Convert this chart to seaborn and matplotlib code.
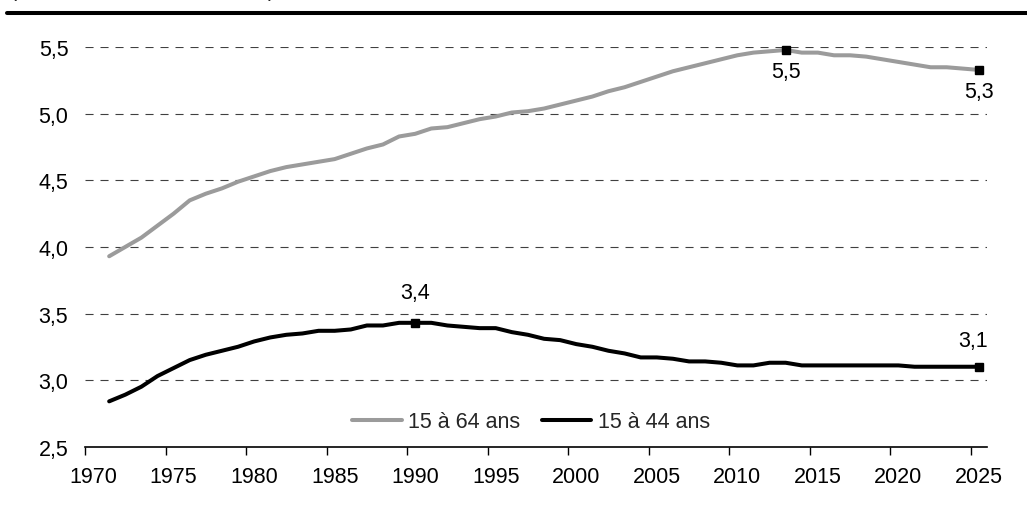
import numpy as np
import pandas as pd
import matplotlib
matplotlib.use("Agg")
import matplotlib.pyplot as plt
from matplotlib.lines import Line2D
import seaborn as sb

# data (annual values, 1971-2025)
years = list(range(1971, 2026))

pop_15_64 = [3.93, 4.00, 4.07, 4.16, 4.25, 4.35, 4.40, 4.44, 4.49, 4.53,
             4.57, 4.60, 4.62, 4.64, 4.66, 4.70, 4.74, 4.77, 4.83, 4.85,
             4.89, 4.90, 4.93, 4.96, 4.98, 5.01, 5.02, 5.04, 5.07, 5.10,
             5.13, 5.17, 5.20, 5.24, 5.28, 5.32, 5.35, 5.38, 5.41, 5.44,
             5.46, 5.47, 5.48, 5.46, 5.46, 5.44, 5.44, 5.43, 5.41, 5.39,
             5.37, 5.35, 5.35, 5.34, 5.33]

pop_15_44 = [2.84, 2.89, 2.95, 3.03, 3.09, 3.15, 3.19, 3.22, 3.25, 3.29,
             3.32, 3.34, 3.35, 3.37, 3.37, 3.38, 3.41, 3.41, 3.43, 3.43,
             3.43, 3.41, 3.40, 3.39, 3.39, 3.36, 3.34, 3.31, 3.30, 3.27,
             3.25, 3.22, 3.20, 3.17, 3.17, 3.16, 3.14, 3.14, 3.13, 3.11,
             3.11, 3.13, 3.13, 3.11, 3.11, 3.11, 3.11, 3.11, 3.11, 3.11,
             3.10, 3.10, 3.10, 3.10, 3.10]

series_names = ["15 à 64 ans", "15 à 44 ans"]
series_colors = ["#9b9b9b", "#000000"]

# labelled points (series, year)
marked = [("15 à 64 ans", 2013),
          ("15 à 64 ans", 2025),
          ("15 à 44 ans", 1990),
          ("15 à 44 ans", 2025)]
# label offsets from the marker, in pixels (dx, dy)
label_offsets = [(0, -22), (0, -22), (0, 30), (-6, 26)]

y_ticks = [2.5, 3.0, 3.5, 4.0, 4.5, 5.0, 5.5]
x_label_years = list(range(1970, 2026, 5))

df = pd.DataFrame({
    "annee": years * 2,
    "valeur": pop_15_64 + pop_15_44,
    "serie": [series_names[0]] * len(years) + [series_names[1]] * len(years),
})

FS = 15.5
px = 72 / 100  # points per pixel at dpi 100

sb.set_theme(style="white")
plt.rcParams["font.family"] = ["Liberation Sans", "DejaVu Sans"]
plt.rcParams["lines.scale_dashes"] = False

fig = plt.figure(figsize=(10.27, 5.06), dpi=100)
ax = fig.add_axes([85 / 1027, 1 - 447.6 / 506, 902 / 1027, 399.3 / 506])

# dashed horizontal gridlines
for yv in y_ticks[1:]:
    ax.axhline(yv, color="#404040", lw=0.8, ls=(0, (5.8, 5.0)), zorder=1)

sb.lineplot(data=df, x="annee", y="valeur", hue="serie", hue_order=series_names,
            palette=series_colors, linewidth=2.9, ax=ax, zorder=3)

lookup = {series_names[0]: pop_15_64, series_names[1]: pop_15_44}
for (name, yr), (dx, dy) in zip(marked, label_offsets):
    v = lookup[name][years.index(yr)]
    ax.plot([yr], [v], marker="s", ms=6, color="black", ls="none", zorder=4, clip_on=False)
    lab = f"{v:.1f}".replace(".", ",")
    ax.annotate(lab, (yr, v), xytext=(dx * px, dy * px), textcoords="offset points",
                ha="center", va="center", fontsize=FS, color="black")

ax.set_xlim(1969.5, 2025.5)
ax.set_ylim(2.5, 5.5)

ax.set_xticks([y - 0.5 for y in x_label_years])
ax.set_xticklabels([])
ax.set_xticks(x_label_years, minor=True)
ax.set_xticklabels([str(y) for y in x_label_years], minor=True)
ax.tick_params(axis="x", which="major", length=6, width=1, color="black", direction="out", bottom=True)
ax.tick_params(axis="x", which="minor", length=0, pad=14, labelsize=FS, labelcolor="black")

ax.set_yticks(y_ticks)
ax.set_yticklabels([f"{v:.1f}".replace(".", ",") for v in y_ticks])
ax.tick_params(axis="y", length=0, pad=12, labelsize=FS, labelcolor="black")

for side in ["top", "right", "left"]:
    ax.spines[side].set_visible(False)
ax.spines["bottom"].set_color("black")
ax.spines["bottom"].set_linewidth(1.2)

ax.set_xlabel("")
ax.set_ylabel("")

leg = ax.legend(loc="center", bbox_to_anchor=((531 - 85) / 902, (447.6 - 423) / 399.3),
                ncol=2, frameon=False, fontsize=FS, handlelength=2.3,
                handletextpad=0.3, columnspacing=1.0)
for h in leg.get_lines():
    h.set_linewidth(2.9)

# thick rule at the top and the clipped title brackets
fig.add_artist(Line2D([7 / 1027, 1.0], [1 - 14 / 506, 1 - 14 / 506], color="black", lw=2.9))
fig.text(10 / 1027, 1 + 3.5 / 506, "(", fontsize=FS, va="baseline", ha="left")
fig.text(268 / 1027, 1 + 3.5 / 506, ")", fontsize=FS, va="baseline", ha="left")

fig.savefig("out.png", dpi=100)
